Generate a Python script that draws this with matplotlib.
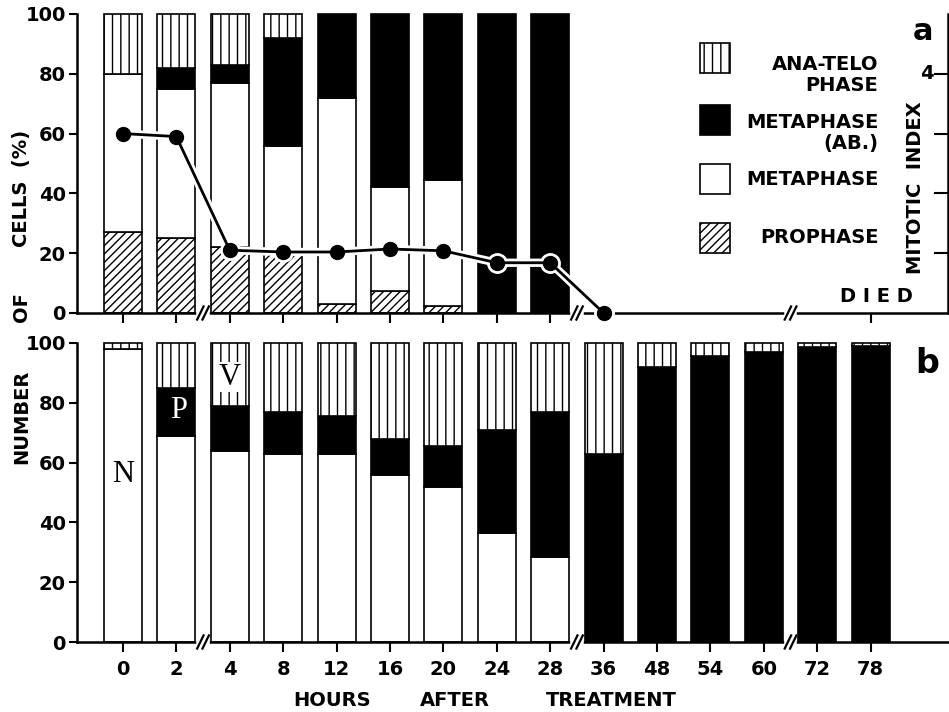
import matplotlib
matplotlib.use('Agg')
import matplotlib.pyplot as plt
from matplotlib.patches import Rectangle
import numpy as np

plt.rcParams['font.family'] = 'DejaVu Sans'
plt.rcParams['font.weight'] = 'bold'
plt.rcParams['font.size'] = 14
plt.rcParams['hatch.linewidth'] = 1.0

hours = ['0', '2', '4', '8', '12', '16', '20', '24', '28', '36', '48', '54', '60', '72', '78']

# panel a: percent of mitotic cells per stage (no cells after 28 h)
a_prophase = [27, 25, 22, 20, 3, 7.5, 2.5, 0, 0]
a_metaphase = [53, 50, 55, 36, 69, 34.5, 42, 0, 0]
a_meta_ab = [0, 7, 6, 36, 28, 58, 55.5, 100, 100]
a_anatelo = [20, 18, 17, 8, 0, 0, 0, 0, 0]
mitotic_index = [3.0, 2.95, 1.05, 1.02, 1.02, 1.07, 1.04, 0.84, 0.84, 0.0]

# panel b: N / P / V cells
b_normal = [98, 69, 64, 63, 63, 56, 52, 36.5, 28.5, 0, 0, 0, 0, 0, 0]
b_p = [0, 16, 15, 14, 12.5, 12, 13.5, 34.5, 48.5, 63, 92, 95.5, 97, 98.5, 99]
b_v = [2, 15, 21, 23, 24.5, 32, 34.5, 29, 23, 37, 8, 4.5, 3, 1.5, 1]

x = np.arange(len(hours))
xa = x[:len(a_prophase)]
w = 0.71
edge = dict(edgecolor='black', linewidth=1.2, clip_on=False)


def breaks(ax, spots):
    tr = ax.get_xaxis_transform()
    for xb in spots:
        ax.plot([xb - 0.07, xb + 0.07], [0, 0], color='white', lw=4,
                transform=tr, clip_on=False, zorder=6)
        for dx in (-0.05, 0.05):
            ax.plot([xb + dx - 0.06, xb + dx + 0.06], [-0.022, 0.022],
                    color='black', lw=1.6, transform=tr, clip_on=False, zorder=7)


fig = plt.figure(figsize=(9.49, 7.12), dpi=100)
axa = fig.add_axes([0.0811, 0.5604, 0.918, 0.42])
axb = fig.add_axes([0.0811, 0.0983, 0.918, 0.42])

# ---- panel a
bottom = np.zeros(len(xa))
for vals, fc, hatch in [(a_prophase, 'white', '////'), (a_metaphase, 'white', None),
                        (a_meta_ab, 'black', None), (a_anatelo, 'white', '||')]:
    vals = np.array(vals)
    axa.bar(xa[vals > 0], vals[vals > 0], w, bottom=bottom[vals > 0],
            facecolor=fc, hatch=hatch, **edge)
    bottom += vals

axa.set_xlim(-0.86, 15.45)
axa.set_ylim(0, 100)
axa.set_yticks([0, 20, 40, 60, 80, 100])
axa.set_xticks(list(range(10)) + [14])
axa.set_xticklabels([])
axa.tick_params(axis='x', length=7, width=1.5)
axa.tick_params(axis='y', length=6, width=1.5, pad=2)
for s in ['top', 'right']:
    axa.spines[s].set_visible(False)
for s in ['left', 'bottom']:
    axa.spines[s].set_linewidth(1.8)

ax2 = axa.twinx()
ax2.set_ylim(0, 5)
ax2.set_yticks([1, 2, 3, 4])
ax2.tick_params(axis='y', direction='in', length=10, width=1.5, labelright=False)
for s in ['top', 'left', 'bottom']:
    ax2.spines[s].set_visible(False)
ax2.spines['right'].set_linewidth(1.8)
xm = x[:len(mitotic_index)]
# white halo where the curve crosses the black bars
ax2.plot(xm, mitotic_index, color='white', lw=6, marker='o', markersize=14,
         clip_on=False, zorder=4)
ax2.plot(xm, mitotic_index, color='black', lw=2, marker='o', markersize=10,
         clip_on=False, zorder=5)
ax2.text(0.976, 4, '4', transform=ax2.get_yaxis_transform(), ha='center', va='center')
ax2.text(0.962, 0.418, 'MITOTIC  INDEX', transform=ax2.transAxes, rotation=90,
         ha='center', va='center')

# legend drawn by hand to keep the right-aligned labels
legend_rows = [('white', '||', 0.803, 'ANA-TELO\nPHASE', 0.797),
               ('black', None, 0.595, 'METAPHASE\n(AB.)', 0.602),
               ('white', None, 0.398, 'METAPHASE', 0.445),
               ('white', '////', 0.200, 'PROPHASE', 0.251)]
for fc, hatch, y0, label, ty in legend_rows:
    axa.add_patch(Rectangle((0.715, y0), 0.0344, 0.10, transform=axa.transAxes,
                            facecolor=fc, hatch=hatch, edgecolor='black', lw=1.2))
    axa.text(0.92, ty, label, transform=axa.transAxes, ha='right', va='center',
             multialignment='right', linespacing=1.15)
axa.text(0.918, 0.054, 'D I E D', transform=axa.transAxes, ha='center', va='center')
axa.text(0.971, 0.94, 'a', transform=axa.transAxes, ha='center', va='center', fontsize=22)
breaks(axa, [1.5, 8.5, 12.5])

# ---- panel b
bottom = np.zeros(len(x))
for vals, fc, hatch in [(b_normal, 'white', None), (b_p, 'black', None), (b_v, 'white', '||')]:
    vals = np.array(vals)
    axb.bar(x[vals > 0], vals[vals > 0], w, bottom=bottom[vals > 0],
            facecolor=fc, hatch=hatch, **edge)
    bottom += vals

axb.set_xlim(-0.86, 15.45)
axb.set_ylim(0, 100)
axb.set_yticks([0, 20, 40, 60, 80, 100])
axb.set_xticks(x)
axb.set_xticklabels(hours)
axb.tick_params(axis='x', length=7, width=1.5, pad=6)
axb.tick_params(axis='y', length=6, width=1.5, pad=2)
for s in ['top', 'right']:
    axb.spines[s].set_visible(False)
for s in ['left', 'bottom']:
    axb.spines[s].set_linewidth(1.8)
breaks(axb, [1.5, 8.5, 12.5])

serif = dict(family='Liberation Serif', fontweight='normal', fontsize=22, ha='center', va='center')
axb.text(0, 56, 'N', **serif)
axb.text(1.05, 77.5, 'P', color='white', **serif)
axb.text(2, 88.5, 'V', bbox=dict(facecolor='white', edgecolor='none', pad=0.5), **serif)
axb.text(0.976, 0.933, 'b', transform=axb.transAxes, ha='center', va='center', fontsize=24)

# shared axis titles
fig.text(0.023, (712 - 188) / 712, 'CELLS  (%)', rotation=90, ha='center', va='center')
fig.text(0.023, (712 - 307) / 712, 'OF', rotation=90, ha='center', va='center')
fig.text(0.023, (712 - 417) / 712, 'NUMBER', rotation=90, ha='center', va='center')
for word, px in [('HOURS', 332), ('AFTER', 455), ('TREATMENT', 611)]:
    fig.text(px / 949, (712 - 700) / 712, word, ha='center', va='center')

fig.savefig('out.png', dpi=100)
